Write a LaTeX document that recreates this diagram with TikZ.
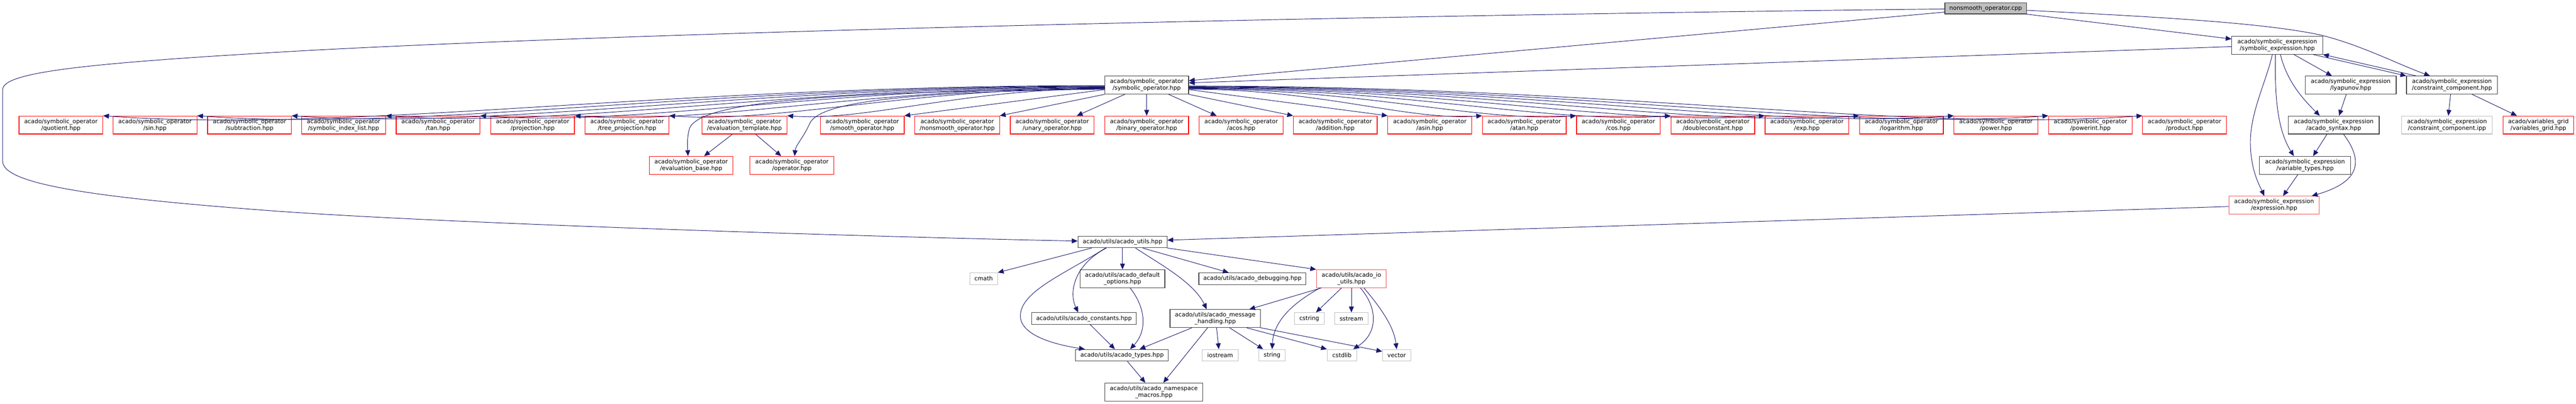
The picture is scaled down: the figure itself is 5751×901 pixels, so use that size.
\documentclass[tikz,border=0pt]{standalone}
\usepackage{fontspec}
\setmainfont{DejaVu Sans}
\usetikzlibrary{arrows.meta,calc}
\definecolor{edgec}{HTML}{191970}
\definecolor{darkb}{HTML}{404040}
\definecolor{grayb}{HTML}{BFBFBF}
\definecolor{salmonb}{HTML}{F05050}
\tikzset{
  nbox/.style={draw=darkb, line width=1.3pt, rectangle, align=center, inner sep=0pt,
    minimum height=40pt, minimum width=187pt, fill=white, text=black,
    font=\fontsize{13}{15}\selectfont},
  redb/.style={nbox, draw=red},
  sysb/.style={nbox, draw=grayb, minimum height=26pt},
  onel/.style={minimum height=26pt},
  dep/.style={draw=edgec, line width=1.1pt, -{Triangle[length=13pt,width=11pt]}},
  fanL/.style={to path={let \p1=(\tikztostart), \p2=(\tikztotarget), \n1={abs(\x2-\x1)} in
    .. controls ($(\p1)+(-0.45*\n1,0)$) and ($(\p2)+(0.25*\n1,-0.018*\n1)$) .. (\p2) \tikztonodes}},
  fanR/.style={to path={let \p1=(\tikztostart), \p2=(\tikztotarget), \n1={abs(\x2-\x1)} in
    .. controls ($(\p1)+(0.45*\n1,0)$) and ($(\p2)+(-0.25*\n1,-0.018*\n1)$) .. (\p2) \tikztonodes}}
}
\newcommand\opnode[3]{\node[redb] (#1) at (#2,279) {acado/symbolic\_operator\\/#3};}
\begin{document}
\begin{tikzpicture}[x=1pt,y=-1pt]
\useasboundingbox (0,0) rectangle (5751,901);

% ---- top part ----
\node[nbox, fill=grayb, minimum width=182pt, minimum height=25pt] (root) at (4433,18.5) {nonsmooth\_operator.cpp};
\node[nbox, minimum width=203pt] (symexpr) at (5084,101) {acado/symbolic\_expression\\/symbolic\_expression.hpp};
\node[nbox] (symop) at (2560,190) {acado/symbolic\_operator\\/symbolic\_operator.hpp};
\node[nbox, minimum width=203pt] (lyap) at (5248,190) {acado/symbolic\_expression\\/lyapunov.hpp};
\node[nbox, minimum width=203pt] (cc) at (5474,190) {acado/symbolic\_expression\\/constraint\_component.hpp};

\opnode{quot}{136}{quotient.hpp}
\opnode{sin}{346}{sin.hpp}
\opnode{subtr}{557}{subtraction.hpp}
\opnode{sidx}{767}{symbolic\_index\_list.hpp}
\opnode{tan}{978}{tan.hpp}
\opnode{proj}{1189}{projection.hpp}
\opnode{tproj}{1400}{tree\_projection.hpp}
\node[redb, minimum width=190pt] (etmpl) at (1662,279) {acado/symbolic\_operator\\/evaluation\_template.hpp};
\opnode{smooth}{1925}{smooth\_operator.hpp}
\node[redb, minimum width=189pt] (nsmooth) at (2137,279) {acado/symbolic\_operator\\/nonsmooth\_operator.hpp};
\opnode{unary}{2349}{unary\_operator.hpp}
\opnode{binary}{2560}{binary\_operator.hpp}
\opnode{acos}{2771}{acos.hpp}
\opnode{addit}{2981}{addition.hpp}
\opnode{asin}{3192}{asin.hpp}
\opnode{atan}{3403}{atan.hpp}
\opnode{cos}{3613}{cos.hpp}
\opnode{dconst}{3824}{doubleconstant.hpp}
\opnode{exp}{4034}{exp.hpp}
\opnode{log}{4245}{logarithm.hpp}
\opnode{power}{4456}{power.hpp}
\opnode{powint}{4667}{powerint.hpp}
\opnode{product}{4877}{product.hpp}
\node[nbox, minimum width=203pt] (syntax) at (5210,279) {acado/symbolic\_expression\\/acado\_syntax.hpp};
\node[nbox, draw=grayb, minimum width=202pt] (ccipp) at (5463,279) {acado/symbolic\_expression\\/constraint\_component.ipp};
\node[redb, minimum width=157pt] (vgrid) at (5667,279) {acado/variables\_grid\\/variables\_grid.hpp};

\node[redb] (ebase) at (1543,369) {acado/symbolic\_operator\\/evaluation\_base.hpp};
\node[redb] (oper) at (1768,369) {acado/symbolic\_operator\\/operator.hpp};
\node[nbox, minimum width=203pt] (vtypes) at (5146,369) {acado/symbolic\_expression\\/variable\_types.hpp};
\node[nbox, draw=salmonb, minimum width=202pt] (expr) at (5077,458) {acado/symbolic\_expression\\/expression.hpp};

% ---- utils part ----
\node[nbox, onel, minimum width=199pt] (utils) at (2506,540) {acado/utils/acado\_utils.hpp};
\node[sysb, minimum width=62pt] (cmath) at (2196,622) {cmath};
\node[nbox, minimum width=189pt] (dopt) at (2506,622) {acado/utils/acado\_default\\\_options.hpp};
\node[nbox, onel, minimum width=239pt] (debug) at (2796,622) {acado/utils/acado\_debugging.hpp};
\node[nbox, draw=salmonb, minimum width=156pt] (io) at (3017,622) {acado/utils/acado\_io\\\_utils.hpp};
\node[nbox, onel, minimum width=234pt] (const) at (2420,711) {acado/utils/acado\_constants.hpp};
\node[nbox, minimum width=202pt] (msg) at (2713,711) {acado/utils/acado\_message\\\_handling.hpp};
\node[sysb, minimum width=67pt] (cstring) at (2923,711) {cstring};
\node[sysb, minimum width=74pt] (sstream) at (3017,711) {sstream};
\node[nbox, onel, minimum width=207pt] (types) at (2505,793) {acado/utils/acado\_types.hpp};
\node[sysb, minimum width=80pt] (iostream) at (2724,793) {iostream};
\node[sysb, minimum width=59pt] (string) at (2840,793) {string};
\node[sysb, minimum width=66pt] (cstdlib) at (2996,793) {cstdlib};
\node[sysb, minimum width=63pt] (vector) at (3118,793) {vector};
\node[nbox, minimum width=218pt] (ns) at (2576,875) {acado/utils/acado\_namespace\\\_macros.hpp};

% ---- edges from root ----
\draw[dep] ([yshift=-1.5pt]root.west) .. controls (3000,35) and (1500,70) .. (700,112)
  .. controls (200,140) and (6,160) .. (6,200) -- (6,360)
  .. controls (6,410) and (200,440) .. (600,470)
  .. controls (1000,500) and (2000,530) .. ([yshift=2pt]utils.west);
\draw[dep] ([yshift=-8.5pt]root.west) -- ([yshift=10pt]symop.east);
\draw[dep] (root.south east) -- ([yshift=14pt]symexpr.west);
\draw[dep] ([yshift=-4.5pt]root.east) .. controls (4800,37) and (5050,50) .. (5180,78)
  .. controls (5270,100) and (5350,142) .. ([xshift=-49pt]cc.north);

% ---- symbolic expression cluster ----
\draw[dep] ([yshift=-3pt]symexpr.west) -- ([yshift=5pt]symop.east);
\draw[dep] ([xshift=37pt]symexpr.south) -- ([xshift=-42pt]lyap.north);
\draw[dep] ([xshift=80pt]symexpr.south) -- (cc.north west);
\draw[dep] ([xshift=-80pt]cc.north) -- (symexpr.south east);
\draw[dep] ([xshift=-11pt]symexpr.south) .. controls (5060,180) and (5024,250) .. (5024,317)
  .. controls (5024,380) and (5045,415) .. ([xshift=-22pt]expr.north);
\draw[dep] ([xshift=-4pt]symexpr.south) .. controls (5078,220) and (5085,290) .. ([xshift=-25pt]vtypes.north);
\draw[dep] ([xshift=7pt]symexpr.south) .. controls (5105,180) and (5140,220) .. ([xshift=-31pt]syntax.north);
\draw[dep] ([xshift=-10pt]lyap.south) -- ([xshift=12pt]syntax.north);
\draw[dep] ([xshift=-3pt]cc.south) -- ([xshift=3pt]ccipp.north);
\draw[dep] ([xshift=45pt]cc.south) -- ([xshift=-48pt]vgrid.north);
\draw[dep] ([xshift=-15pt]syntax.south) -- ([xshift=18pt]vtypes.north);
\draw[dep] ([xshift=22pt]syntax.south) .. controls (5285,370) and (5255,410) .. ([xshift=84pt]expr.north);
\draw[dep] ([xshift=-16pt]vtypes.south) -- ([xshift=20pt]expr.north);
\draw[dep] ([yshift=-3pt]expr.west) -- ([yshift=4pt]utils.east);

% ---- symbolic operator fan ----
\draw[dep] ([yshift=-1pt]symop.west) to[fanL] (quot.north east);
\draw[dep] ([yshift=-2pt]symop.west) to[fanL] (sin.north east);
\draw[dep] ([yshift=-3pt]symop.west) to[fanL] (subtr.north east);
\draw[dep] ([yshift=-4pt]symop.west) to[fanL] (sidx.north east);
\draw[dep] ([yshift=-5pt]symop.west) to[fanL] (tan.north east);
\draw[dep] ([yshift=-6pt]symop.west) to[fanL] (proj.north east);
\draw[dep] ([yshift=-7pt]symop.west) to[fanL] (tproj.north east);
\draw[dep] ([yshift=-8pt]symop.west) to[fanL] (etmpl.north east);
\draw[dep] ([yshift=-8pt]symop.west) .. controls (1900,205) and (1570,222) .. (1540,285)
  .. controls (1533,305) and (1535,330) .. ([xshift=-7pt]ebase.north);
\draw[dep] ([yshift=-9pt]symop.west) .. controls (2000,205) and (1830,230) .. (1808,275)
  .. controls (1795,305) and (1776,325) .. ([xshift=6pt]oper.north);
\draw[dep] ([yshift=-10pt]symop.west) -- (smooth.north east);
\draw[dep] (symop.south west) -- (nsmooth.north east);
\draw[dep] ([xshift=-49pt]symop.south) -- ([xshift=55pt]unary.north);
\draw[dep] (symop.south) -- (binary.north);
\draw[dep] ([xshift=49pt]symop.south) -- ([xshift=-55pt]acos.north);
\draw[dep] (symop.south east) -- (addit.north west);
\draw[dep] ([yshift=-10pt]symop.east) -- (asin.north west);
\draw[dep] ([yshift=-9pt]symop.east) to[fanR] (atan.north west);
\draw[dep] ([yshift=-8pt]symop.east) to[fanR] (cos.north west);
\draw[dep] ([yshift=-7pt]symop.east) to[fanR] (dconst.north west);
\draw[dep] ([yshift=-6pt]symop.east) to[fanR] (exp.north west);
\draw[dep] ([yshift=-5pt]symop.east) to[fanR] (log.north west);
\draw[dep] ([yshift=-4pt]symop.east) to[fanR] (power.north west);
\draw[dep] ([yshift=-3pt]symop.east) to[fanR] (powint.north west);
\draw[dep] ([yshift=-2pt]symop.east) to[fanR] (product.north west);
\draw[dep] ([xshift=-27pt]etmpl.south) -- ([xshift=29pt]ebase.north);
\draw[dep] ([xshift=25pt]etmpl.south) -- ([xshift=-24pt]oper.north);

% ---- utils edges ----
\draw[dep] ([xshift=-69pt]utils.south) -- (cmath.north east);
\draw[dep] ([xshift=-38pt]utils.south) .. controls (2380,610) and (2278,650) .. (2278,705)
  .. controls (2278,750) and (2360,770) .. ([xshift=-83pt]types.north);
\draw[dep] ([xshift=-36pt]utils.south) .. controls (2400,590) and (2385,650) .. ([xshift=-13pt]const.north);
\draw[dep] (utils.south) -- (dopt.north);
\draw[dep] ([xshift=29pt]utils.south) .. controls (2590,590) and (2665,630) .. ([xshift=-19pt]msg.north);
\draw[dep] ([xshift=45pt]utils.south) -- ([xshift=-53pt]debug.north);
\draw[dep] (utils.south east) -- (io.north west);
\draw[dep] ([xshift=17pt]dopt.south) .. controls (2560,690) and (2560,740) .. ([xshift=18pt]types.north);
\draw[dep] ([xshift=14pt]const.south) -- ([xshift=-16pt]types.north);
\draw[dep] ([xshift=-52pt]msg.south) -- ([xshift=39pt]types.north);
\draw[dep] ([xshift=-17pt]msg.south) -- ([xshift=21pt]ns.north);
\draw[dep] ([xshift=12pt]types.south) -- ([xshift=-19pt]ns.north);
\draw[dep] ([xshift=3pt]msg.south) -- ([xshift=-3pt]iostream.north);
\draw[dep] ([xshift=32pt]msg.south) -- ([xshift=-20pt]string.north);
\draw[dep] ([xshift=70pt]msg.south) -- (cstdlib.north west);
\draw[dep] (msg.south east) -- ([yshift=-5pt]vector.north west);
\draw[dep] ([xshift=-67pt]io.south) -- ([xshift=76pt]msg.north);
\draw[dep] ([xshift=-70pt]io.south) .. controls (2880,680) and (2843,720) .. (string.north);
\draw[dep] ([xshift=-22pt]io.south) -- ([xshift=15pt]cstring.north);
\draw[dep] (io.south) -- (sstream.north);
\draw[dep] ([xshift=20pt]io.south) .. controls (3078,690) and (3075,745) .. ([xshift=25pt]cstdlib.north);
\draw[dep] ([xshift=28pt]io.south) .. controls (3085,690) and (3112,730) .. (vector.north);
\end{tikzpicture}
\end{document}
